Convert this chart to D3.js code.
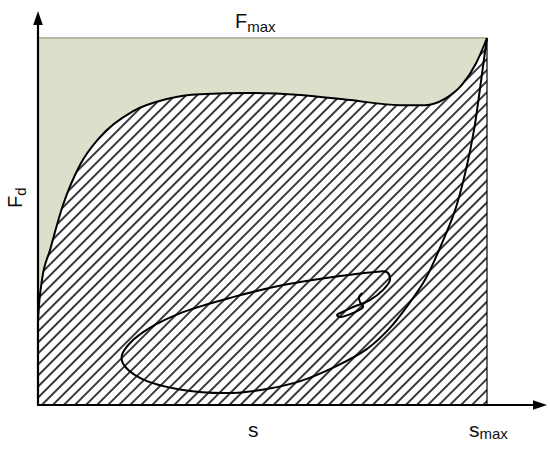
<!DOCTYPE html>
<html>
<head>
<meta charset="utf-8">
<script src="https://cdn.jsdelivr.net/npm/d3@7"></script>
<style>
  html, body { margin: 0; padding: 0; background: #fff; }
  svg { display: block; font-family: Arial, "Liberation Sans", sans-serif; }
</style>
</head>
<body>
<svg id="chart" width="550" height="450"></svg>
<script>
// ---- data (normalized: s and F in percent of s_max / F_max) ----
const loadingS = [0, 0.22, 0.89, 2.67, 5.57, 9.35, 13.8, 21.2, 28.7, 36.1, 47.2, 58.4, 69.5, 80.6, 86.2, 90.6, 94.4, 97.6, 100];
const loadingF = [23.2, 27.2, 34.1, 42.2, 54.5, 65.4, 73.0, 80.1, 83.4, 84.7, 85.0, 84.5, 83.1, 81.7, 81.7, 83.4, 87.2, 93.2, 100];

const unloadS = [100, 99.3, 98.4, 97.1, 95.3, 92.9, 89.8, 86.2, 82.4, 78.4, 73.3, 66.1, 58.4, 51.2, 43.4, 32.3, 22.7, 18.9, 18.7, 20.5, 24.9, 32.3, 43.4, 54.6, 65.7, 74.6, 77.7, 78.4, 76.8, 73.9, 70.2, 67.7, 66.6, 67.3, 70.2, 72.4, 71.7, 71.5, 72.2];
const unloadF = [100, 94.0, 85.8, 74.9, 64.0, 53.1, 43.6, 34.1, 27.2, 21.0, 15.3, 10.4, 6.5, 4.4, 3.3, 4.1, 7.4, 11.4, 13.6, 16.9, 21.0, 25.3, 29.4, 32.7, 34.9, 36.2, 36.2, 34.1, 31.3, 28.6, 26.7, 25.3, 24.5, 24.0, 25.1, 26.7, 28.1, 29.4, 30.5];

const sDomain = [0, 100];
const fDomain = [0, 100];
const labels = { top: "F", topSub: "max", yAxis: "F", yAxisSub: "d", xAxis: "s", xEnd: "s", xEndSub: "max" };

// ---- layout ----
const svg = d3.select("#chart");
const x = d3.scaleLinear().domain(sDomain).range([38, 487]);
const y = d3.scaleLinear().domain(fDomain).range([405, 38]);

const loading = loadingS.map((s, i) => ({ s, f: loadingF[i] }));
const unload = unloadS.map((s, i) => ({ s, f: unloadF[i] }));

// hatch pattern
const defs = svg.append("defs");
const pat = defs.append("pattern")
  .attr("id", "hatch")
  .attr("patternUnits", "userSpaceOnUse")
  .attr("width", 7.8).attr("height", 7.8)
  .attr("patternTransform", "rotate(45)");
pat.append("line")
  .attr("x1", 3.9).attr("y1", -1).attr("x2", 3.9).attr("y2", 9)
  .attr("stroke", "#262626").attr("stroke-width", 1.8);

const loadCurve = d3.curveMonotoneX;
const curve = d3.curveCatmullRom.alpha(0.5);

// green region above loading curve
svg.append("path")
  .datum(loading)
  .attr("d", d3.area().x(d => x(d.s)).y0(y(fDomain[1])).y1(d => y(d.f)).curve(loadCurve))
  .attr("fill", "#dcdfca");

// hatched region below loading curve
const under = d3.area().x(d => x(d.s)).y0(y(0)).y1(d => y(d.f)).curve(loadCurve);
svg.append("path").datum(loading).attr("d", under).attr("fill", "#fff");
svg.append("path").datum(loading).attr("d", under).attr("fill", "url(#hatch)");

// Fmax line
svg.append("line")
  .attr("x1", x(0)).attr("x2", x(100)).attr("y1", y(100)).attr("y2", y(100))
  .attr("stroke", "#b7b8a8").attr("stroke-width", 2.2);

// s_max vertical
svg.append("line")
  .attr("x1", x(100)).attr("x2", x(100)).attr("y1", y(100)).attr("y2", y(0))
  .attr("stroke", "#000").attr("stroke-width", 1.2);

// curves
svg.append("path").datum(loading)
  .attr("d", d3.line().x(d => x(d.s)).y(d => y(d.f)).curve(loadCurve))
  .attr("fill", "none").attr("stroke", "#000").attr("stroke-width", 2);
svg.append("path").datum(unload)
  .attr("d", d3.line().x(d => x(d.s)).y(d => y(d.f)).curve(curve))
  .attr("fill", "none").attr("stroke", "#000").attr("stroke-width", 2);

// axes with arrows
const x0 = x(0), y0 = y(0);
svg.append("line").attr("x1", x0).attr("y1", y0 + 1).attr("x2", x0).attr("y2", 22)
  .attr("stroke", "#000").attr("stroke-width", 2.2);
svg.append("path").attr("d", `M${x0},11 L${x0 - 4.8},25 L${x0 + 4.8},25 Z`).attr("fill", "#000");
svg.append("line").attr("x1", x0 - 1).attr("y1", y0).attr("x2", 536).attr("y2", y0)
  .attr("stroke", "#000").attr("stroke-width", 2.2);
svg.append("path").attr("d", `M547,${y0} L533,${y0 - 4.8} L533,${y0 + 4.8} Z`).attr("fill", "#000");

// labels
const t1 = svg.append("text").attr("x", 235).attr("y", 28).attr("font-size", 20).attr("fill", "#111");
t1.append("tspan").text(labels.top);
t1.append("tspan").attr("font-size", 15).attr("dy", 4).text(labels.topSub);

const t2 = svg.append("text").attr("transform", "translate(22,208) rotate(-90)").attr("font-size", 20).attr("fill", "#111");
t2.append("tspan").text(labels.yAxis);
t2.append("tspan").attr("font-size", 15).attr("dy", 4).text(labels.yAxisSub);

svg.append("text").attr("x", 248).attr("y", 437).attr("font-size", 21).attr("fill", "#111").text(labels.xAxis);

const t3 = svg.append("text").attr("x", 469).attr("y", 437).attr("font-size", 21).attr("fill", "#111");
t3.append("tspan").text(labels.xEnd);
t3.append("tspan").attr("font-size", 15).attr("dy", 2).text(labels.xEndSub);
</script>
</body>
</html>
